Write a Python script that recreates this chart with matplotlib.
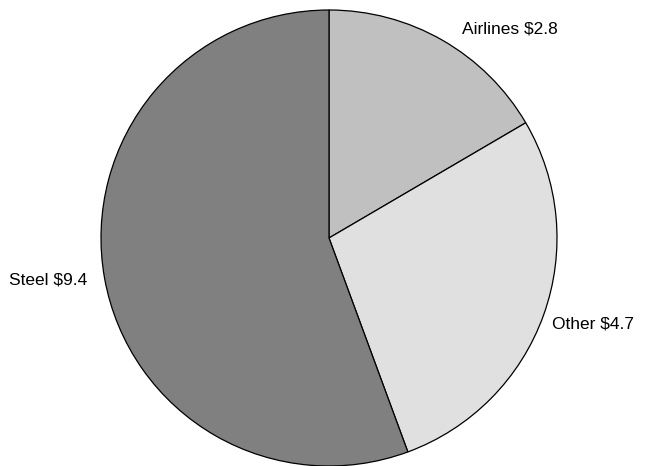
import matplotlib
matplotlib.use("Agg")
import matplotlib.pyplot as plt

categories = ["Airlines", "Other", "Steel"]
values = [2.8, 4.7, 9.4]
colors = ["#c0c0c0", "#e0e0e0", "#808080"]

plt.rcParams['font.family'] = ['Liberation Sans', 'DejaVu Sans']

fig = plt.figure(figsize=(6.46, 4.66), dpi=100)
W, H = 646, 466
ax = fig.add_axes([101 / W, 0 / H, 456 / W, 456 / H])
ax.pie(values, colors=colors, startangle=90, counterclock=False,
       wedgeprops=dict(edgecolor="black", linewidth=0.9), radius=1.0)
ax.set_xlim(-1, 1)
ax.set_ylim(-1, 1)
ax.set_aspect("equal")
ax.axis("off")

label_pos = [(1.004, 0.895, "right"), (0.978, -0.395, "left"), (-1.061, -0.202, "right")]
for (x, y, ha), c, v in zip(label_pos, categories, values):
    ax.text(x, y, f"{c} ${v}", ha=ha, va="baseline", fontsize=12.5, clip_on=False)

fig.savefig("out.png", dpi=100)
